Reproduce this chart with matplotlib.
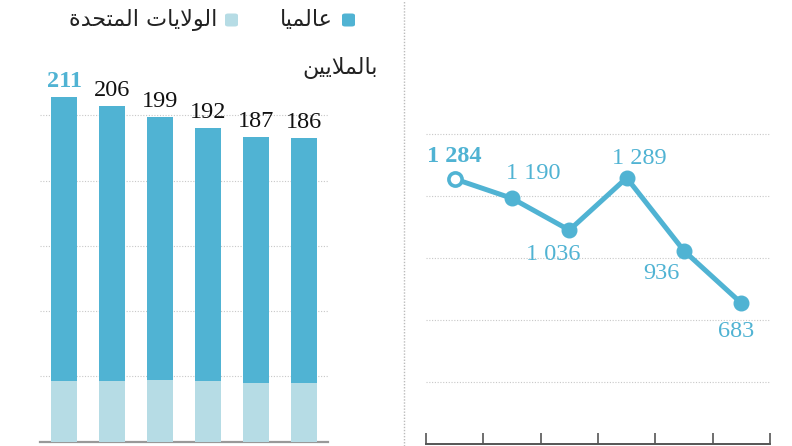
import matplotlib
matplotlib.use("Agg")
import matplotlib.pyplot as plt
from matplotlib.lines import Line2D
from matplotlib.patches import FancyBboxPatch

# ---- data ----
global_vals = [211, 206, 199, 192, 187, 186]
us_vals = [37, 37, 38, 37, 36, 36]
line_vals = [1284, 1190, 1036, 1289, 936, 683]
bar_labels = ["211", "206", "199", "192", "187", "186"]
line_labels = ["1 284", "1 190", "1 036", "1 289", "936", "683"]

# Arabic text (shaped presentation forms, visual order)
leg_global = "\uFE8E\uFEF4\uFEE4\uFEDF\uFE8E\uFECB"            # عالميا
leg_us = ("\uFE93\uFEAA\uFEA4\uFE98\uFEE4\uFEDF\uFE8D "
          "\uFE95\uFE8E\uFEF3\uFEFB\uFEEE\uFEDF\uFE8D")          # الولايات المتحدة
unit_txt = "\uFEE6\uFEF4\uFEF3\uFEFC\uFEE4\uFEDF\uFE8E\uFE91"    # بالملايين

DARK = "#50B3D3"
LIGHT = "#B6DCE5"
GRID = "#C8C8C8"
W, H = 792, 446

fig = plt.figure(figsize=(W / 100, H / 100), dpi=100)


def fx(px):
    return px / W


def fy(py):
    return 1 - py / H


num_font = "Liberation Serif"
FS = 17.5

# ---- left: stacked bars ----
axL = fig.add_axes([fx(40), fy(441.5), fx(288), 441.5 / H])
x = list(range(len(global_vals)))
axL.bar(x, global_vals, width=0.54, color=DARK, zorder=2)
axL.bar(x, us_vals, width=0.54, color=LIGHT, zorder=3)
axL.set_xlim(-0.5, 5.5)
axL.set_ylim(0, 441.5 / 1.631)
axL.set_yticks([40, 80, 120, 160, 200])
axL.yaxis.grid(True, linestyle=(0, (1, 1.5)), color=GRID, linewidth=0.8, zorder=0)
axL.set_xticks([])
axL.tick_params(left=False, labelleft=False)
for s in ["top", "right", "left"]:
    axL.spines[s].set_visible(False)
axL.spines["bottom"].set_color("#999999")
axL.spines["bottom"].set_linewidth(1.6)
axL.set_axisbelow(True)
for i, (v, lab) in enumerate(zip(global_vals, bar_labels)):
    axL.annotate(lab, (i, v), xytext=(0, 10), textcoords="offset pixels",
                 ha="center", va="baseline", fontsize=FS, family=num_font,
                 color=DARK if i == 0 else "#111111",
                 fontweight="bold" if i == 0 else "normal", annotation_clip=False)

# ---- right: line chart ----
axR = fig.add_axes([fx(426), fy(444.3), fx(344), (444.3 - 100) / H])
axR.set_xlim(-0.5, 5.5)
axR.set_ylim(0, 344.3 / 0.2067)
axR.set_yticks([300, 600, 900, 1200, 1500])
axR.yaxis.grid(True, linestyle=(0, (1, 1.5)), color=GRID, linewidth=0.8, zorder=0)
axR.tick_params(left=False, labelleft=False)
axR.set_xticks([i - 0.5 for i in range(7)])
axR.tick_params(axis="x", direction="in", length=8, width=1.2, color="#555555",
                labelbottom=False)
for s in ["top", "right", "left"]:
    axR.spines[s].set_visible(False)
axR.spines["bottom"].set_color("#555555")
axR.spines["bottom"].set_linewidth(1.4)
axR.plot(x, line_vals, color=DARK, linewidth=3.6, zorder=3, solid_capstyle="round")
axR.plot(x[1:], line_vals[1:], "o", color=DARK, markersize=10.5, zorder=4)
axR.plot(x[:1], line_vals[:1], "o", markerfacecolor="white", markeredgecolor=DARK,
         markeredgewidth=2.6, markersize=9.5, zorder=5)
offsets = [(0, 16.6), (21, 19.4), (-16, -30), (13, 14.3), (-23, -28.3), (-5, -34.3)]
for i, (v, lab, off) in enumerate(zip(line_vals, line_labels, offsets)):
    axR.annotate(lab, (i, v), xytext=off, textcoords="offset pixels",
                 ha="center", va="baseline", fontsize=FS, family=num_font,
                 color=DARK, fontweight="bold" if i == 0 else "normal",
                 annotation_clip=False)

# ---- separator ----
fig.add_artist(Line2D([fx(404), fx(404)], [0, 1], transform=fig.transFigure,
                      color="#BBBBBB", linewidth=1.0, linestyle=(0, (1, 1.2))))

# ---- legend / unit ----
for (x0, col) in [(342, DARK), (225, LIGHT)]:
    fig.add_artist(FancyBboxPatch((fx(x0), fy(26.5)), fx(13), 13 / H,
                                  boxstyle="round,pad=0,rounding_size=0.004",
                                  transform=fig.transFigure, facecolor=col,
                                  edgecolor="none"))
fig.text(fx(333), fy(26), leg_global, ha="right", va="baseline", fontsize=16,
         family="DejaVu Sans", color="#222222")
fig.text(fx(217), fy(26), leg_us, ha="right", va="baseline", fontsize=16,
         family="DejaVu Sans", color="#222222")
fig.text(fx(378), fy(74), unit_txt, ha="right", va="baseline", fontsize=16,
         family="DejaVu Sans", color="#222222")

fig.savefig("out.png", dpi=100)
